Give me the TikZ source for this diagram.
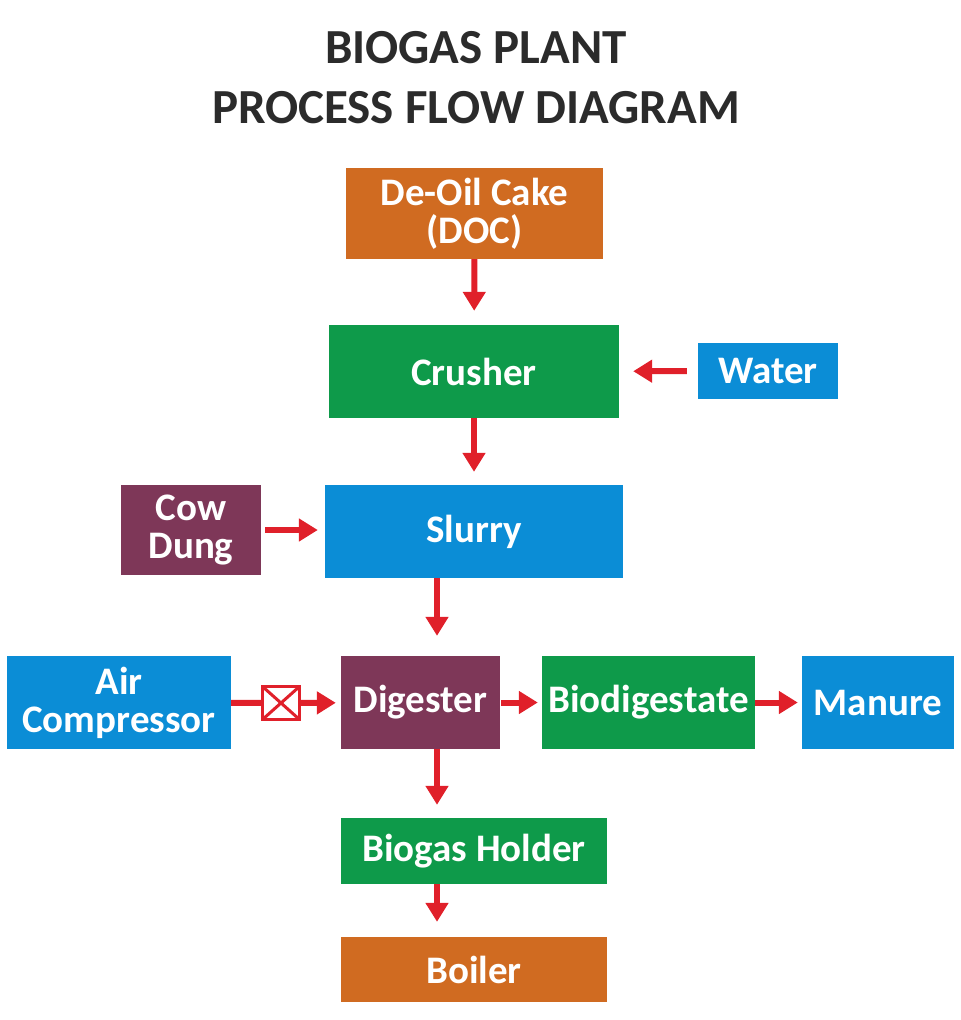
\documentclass[tikz,border=0pt]{standalone}
\usepackage{fontspec}
\setmainfont{Carlito}
\definecolor{docorange}{HTML}{D06B21}
\definecolor{plantgreen}{HTML}{0E9A4A}
\definecolor{plantblue}{HTML}{0B8DD6}
\definecolor{plantmaroon}{HTML}{7E3758}
\definecolor{flowred}{HTML}{E0202A}
\definecolor{titlegrey}{HTML}{2B2B2B}
\usetikzlibrary{calc, positioning, arrows.meta}

\begin{document}
\begin{tikzpicture}[
  x=1pt, y=-1pt,
  box/.style={fill=#1, text=white, align=center, inner sep=0pt,
              minimum height=93pt,
              font=\fontsize{39}{38}\selectfont\bfseries},
  flow/.style={draw=flowred, line width=6pt,
               -{Triangle[length=19pt,width=22pt]}},
  valvebox/.style={draw=flowred, fill=white, line width=3pt,
                   minimum width=37pt, minimum height=33pt, inner sep=0pt,
                   path picture={
                     \draw[flowred, line width=3pt]
                       (path picture bounding box.south west) -- (path picture bounding box.north east)
                       (path picture bounding box.north west) -- (path picture bounding box.south east);
                   }},
]
\useasboundingbox (0,0) rectangle (961,1020);

% title
\node[text=titlegrey, font=\fontsize{49}{60}\selectfont\bfseries, align=center]
  (title) at (476,78) {BIOGAS PLANT\\PROCESS FLOW DIAGRAM};

% boxes
\node[box=docorange, minimum width=257pt, minimum height=91pt] (doc) at (474.5,213.5) {De-Oil Cake\\(DOC)};
\node[box=plantgreen, minimum width=290pt] (crusher) at (474,371.5) {Crusher};
\node[box=plantblue, minimum width=140pt, minimum height=56pt] (water) at (768,371) {Water};
\node[box=plantmaroon, minimum width=140pt, minimum height=90pt] (dung) at (191,530) {Cow\\Dung};
\node[box=plantblue, minimum width=298pt] (slurry) at (474,531.5) {Slurry};
\node[box=plantblue, minimum width=224pt] (air) at (119,702.5) {Air\\Compressor};
\node[box=plantmaroon, minimum width=159pt] (digester) at (420.5,702.5) {Digester};
\node[box=plantgreen, minimum width=213pt] (biodig) at (648.5,702.5) {Biodigestate};
\node[box=plantblue, minimum width=152pt] (manure) at (878,702.5) {Manure};
\node[box=plantgreen, minimum width=266pt, minimum height=66pt] (holder) at (474,851) {Biogas Holder};
\node[box=docorange, minimum width=266pt, minimum height=65pt] (boiler) at (474,969.5) {Boiler};

% valve on the air line
\node[valvebox] (valve) at (281,703) {};

% connectors
\coordinate (leftx) at (437,0);
\draw[flow, shorten >=14pt] (doc) -- (crusher);
\draw[flow, shorten <=11pt, shorten >=14pt] (water) -- (crusher);
\draw[flow, shorten >=13pt] (crusher) -- (slurry);
\draw[flow, shorten <=4pt, shorten >=7pt] (dung.east) -- (slurry.west |- dung.east);
\draw[flow, shorten >=20pt] (slurry.south -| leftx) -- (digester.north -| leftx);
\draw[draw=flowred, line width=6pt] (air) -- (valve);
\draw[flow, shorten >=5pt] (valve) -- (digester);
\draw[flow, shorten <=1pt, shorten >=4pt] (digester) -- (biodig);
\draw[flow, shorten >=4pt] (biodig) -- (manure);
\draw[flow, shorten >=13pt] (digester.south -| leftx) -- (holder.north -| leftx);
\draw[flow, shorten >=15pt] (holder.south -| leftx) -- (boiler.north -| leftx);
\end{tikzpicture}
\end{document}
